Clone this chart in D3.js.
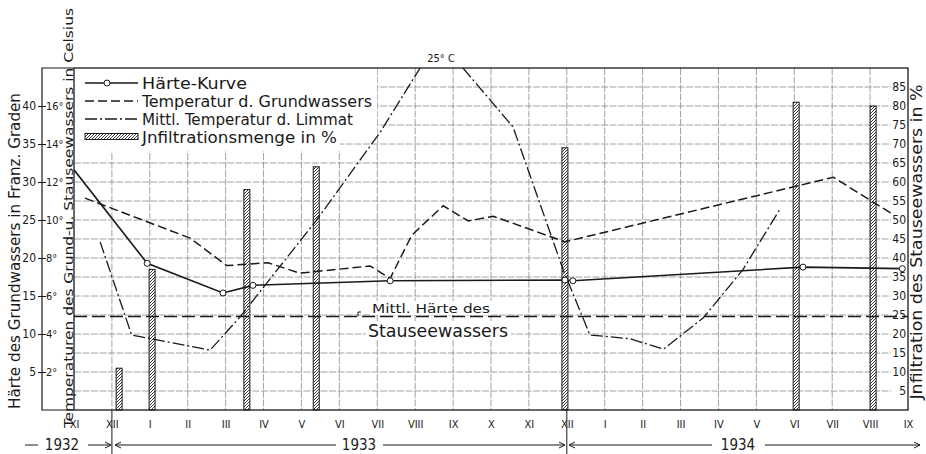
<!DOCTYPE html>
<html>
<head>
<meta charset="utf-8">
<script src="https://cdnjs.cloudflare.com/ajax/libs/d3/7.8.5/d3.min.js"></script>
<style>
  body { margin: 0; background: #fff; }
  svg { display: block; }
  text { font-family: "DejaVu Sans Condensed", "Liberation Sans Narrow", "DejaVu Sans", sans-serif; fill: #1a1a1a; }
</style>
</head>
<body>
<svg id="chart" width="926" height="454"></svg>
<script>
// month labels, Nov 1932 .. Sep 1934 (index 0..22)
const months = ["XI", "XII", "I", "II", "III", "IV", "V", "VI", "VII", "VIII", "IX", "X", "XI",
                "XII", "I", "II", "III", "IV", "V", "VI", "VII", "VIII", "IX"];
const years = ["1932", "1933", "1934"];

// [month index, value]
const haerte = [[0, 31.6], [1.93, 19.3], [3.93, 15.4], [4.72, 16.4], [8.34, 17.0],
                [12.95, 17.1], [13.16, 17.0], [19.23, 18.8], [21.85, 18.6]];   // franz. Grade
const tempGrund = [[0.29, 11.15], [3.06, 9.05], [4.03, 7.6], [5.12, 7.75], [5.96, 7.2],
                   [7.81, 7.58], [8.34, 6.93], [8.91, 9.2], [9.74, 10.75], [10.4, 9.95],
                   [11.06, 10.2], [12.95, 8.85], [20.03, 12.25], [21.6, 10.3]];  // °C
const tempLimmat = [[0.69, 8.85], [1.52, 3.95], [3.59, 3.15], [4.38, 4.9], [6.4, 10.0],
                    [8.07, 14.6], [9.13, 18.0], [9.7, 25.0], [10.26, 18.0], [11.58, 14.9],
                    [12.9, 7.4], [13.61, 3.95], [14.67, 3.75], [15.55, 3.2], [16.6, 4.85],
                    [17.65, 7.4], [18.63, 10.6]];                                   // °C
const infiltration = [[1.19, 11], [2.06, 37], [4.56, 58], [6.39, 64], [12.95, 69],
                      [19.05, 81], [21.08, 80]];                                    // %
const mittlHaerte = 12.3;

const haerteTicks = [5, 10, 15, 20, 25, 30, 35, 40];
const tempTicks = [2, 4, 6, 8, 10, 12, 14, 16];
const pctTicks = [5, 10, 15, 20, 25, 30, 35, 40, 45, 50, 55, 60, 65, 70, 75, 80, 85];

const INK = "#1a1a1a";
const L = 74, R = 908, T = 68, B = 410;

const svg = d3.select("#chart");
const x = d3.scaleLinear().domain([0, 22]).range([L, R]);
const yH = d3.scaleLinear().domain([0, 45]).range([B, T]);
const yT = d3.scaleLinear().domain([0, 18]).range([B, T]);
const yP = d3.scaleLinear().domain([0, 90]).range([B, T]);

const defs = svg.append("defs");
defs.append("clipPath").attr("id", "plot")
  .append("rect").attr("x", L).attr("y", T).attr("width", R - L).attr("height", B - T);
const hatch = defs.append("pattern").attr("id", "hatch")
  .attr("patternUnits", "userSpaceOnUse").attr("width", 3).attr("height", 3);
hatch.append("rect").attr("width", 3).attr("height", 3).attr("fill", "#fff");
hatch.append("path").attr("d", "M-1,1 L1,-1 M0,3 L3,0 M2,4 L4,2")
  .attr("stroke", "#222").attr("stroke-width", 0.9);

// grid
const grid = svg.append("g").attr("stroke", "#8a8a8a").attr("stroke-width", 0.8)
  .attr("stroke-dasharray", "7,1.5");
grid.selectAll(".v").data(d3.range(1, 22)).join("line")
  .attr("x1", d => x(d)).attr("x2", d => x(d)).attr("y1", T).attr("y2", B);
grid.selectAll(".h").data(pctTicks).join("line")
  .attr("x1", L).attr("x2", 891).attr("y1", d => yP(d)).attr("y2", d => yP(d));

// year separators at XII
svg.selectAll(".sep").data([1, 13]).join("line")
  .attr("x1", d => x(d)).attr("x2", d => x(d)).attr("y1", B).attr("y2", 454)
  .attr("stroke", INK).attr("stroke-width", 1);

// legend background
svg.append("path").attr("d", `M${L},${T} H377 V143 H340 V151 H${L} Z`).attr("fill", "#fff");

// infiltration bars
svg.append("g").selectAll("rect").data(infiltration).join("rect")
  .attr("x", d => x(d[0]) - 3).attr("width", 6)
  .attr("y", d => yP(d[1])).attr("height", d => B - yP(d[1]))
  .attr("fill", "url(#hatch)").attr("stroke", INK).attr("stroke-width", 1);

// mittlere Härte des Stauseewassers
svg.append("line").attr("x1", L).attr("x2", R)
  .attr("y1", yH(mittlHaerte)).attr("y2", yH(mittlHaerte))
  .attr("stroke", INK).attr("stroke-width", 1.3).attr("stroke-dasharray", "13,5");
svg.append("rect").attr("x", 370).attr("y", 301).attr("width", 122).attr("height", 14).attr("fill", "#fff");
svg.append("rect").attr("x", 366).attr("y", 321).attr("width", 145).attr("height", 19).attr("fill", "#fff");
svg.append("text").attr("x", 431).attr("y", 313).attr("text-anchor", "middle")
  .attr("font-size", 13).attr("textLength", 118).attr("lengthAdjust", "spacingAndGlyphs")
  .text("Mittl. Härte des");
svg.append("text").attr("x", 438).attr("y", 337).attr("text-anchor", "middle")
  .attr("font-size", 17).attr("textLength", 140).attr("lengthAdjust", "spacingAndGlyphs")
  .text("Stauseewassers");
svg.append("path").attr("d", `M358,${yH(mittlHaerte)} V312 H361`)
  .attr("fill", "none").attr("stroke", INK).attr("stroke-width", 1);

// curves
const plot = svg.append("g").attr("clip-path", "url(#plot)");
const line = sc => d3.line().x(d => x(d[0])).y(d => sc(d[1]));

plot.append("path").datum(tempGrund).attr("d", line(yT))
  .attr("fill", "none").attr("stroke", INK).attr("stroke-width", 1.5).attr("stroke-dasharray", "9,4");
plot.append("path").datum(tempLimmat).attr("d", line(yT))
  .attr("fill", "none").attr("stroke", INK).attr("stroke-width", 1.3).attr("stroke-dasharray", "12,3,2,3");
plot.append("path").datum(haerte).attr("d", line(yH))
  .attr("fill", "none").attr("stroke", INK).attr("stroke-width", 1.6);
plot.selectAll("circle").data(haerte.slice(1)).join("circle")
  .attr("cx", d => x(d[0])).attr("cy", d => yH(d[1])).attr("r", 3)
  .attr("fill", "#fff").attr("stroke", INK).attr("stroke-width", 1);

svg.append("text").attr("x", 441).attr("y", 62).attr("text-anchor", "middle")
  .attr("font-size", 11).text("25° C");

// legend
const legend = [
  { label: "Härte-Kurve", len: 105 },
  { label: "Temperatur d. Grundwassers", len: 230 },
  { label: "Mittl. Temperatur d. Limmat", len: 211 },
  { label: "Jnfiltrationsmenge in %", len: 195 }
];
const ly = i => 83 + i * 18;
const lg = svg.append("g");
lg.append("line").attr("x1", 85).attr("x2", 138).attr("y1", ly(0)).attr("y2", ly(0))
  .attr("stroke", INK).attr("stroke-width", 1.6);
lg.append("circle").attr("cx", 107).attr("cy", ly(0)).attr("r", 3)
  .attr("fill", "#fff").attr("stroke", INK);
lg.append("line").attr("x1", 85).attr("x2", 138).attr("y1", ly(1)).attr("y2", ly(1))
  .attr("stroke", INK).attr("stroke-width", 1.5).attr("stroke-dasharray", "9,4");
lg.append("line").attr("x1", 85).attr("x2", 138).attr("y1", ly(2)).attr("y2", ly(2))
  .attr("stroke", INK).attr("stroke-width", 1.3).attr("stroke-dasharray", "12,3,2,3");
lg.append("rect").attr("x", 85).attr("y", ly(3) - 3.5).attr("width", 53).attr("height", 6)
  .attr("fill", "url(#hatch)").attr("stroke", INK);
lg.selectAll("text").data(legend).join("text")
  .attr("x", 142).attr("y", (d, i) => ly(i) + 5.5).attr("font-size", 15)
  .attr("textLength", d => d.len).attr("lengthAdjust", "spacingAndGlyphs")
  .text(d => d.label);

// frame
svg.append("rect").attr("x", L).attr("y", T).attr("width", R - L).attr("height", B - T)
  .attr("fill", "none").attr("stroke", INK).attr("stroke-width", 1.3);
svg.append("path").attr("d", `M${L},${T} H42 V${B} H${L}`)
  .attr("fill", "none").attr("stroke", INK).attr("stroke-width", 1.2);

// left axes
const axH = svg.append("g").attr("transform", "translate(42,0)")
  .call(d3.axisLeft(yH).tickValues(haerteTicks).tickSize(4).tickPadding(2).tickFormat(d3.format("d")));
const axT = svg.append("g").attr("transform", "translate(42,0)")
  .call(d3.axisRight(yT).tickValues(tempTicks).tickSize(4).tickPadding(0).tickFormat(d => d + "°"));
// right axis (percent)
const axP = svg.append("g").attr("transform", "translate(907,0)")
  .call(d3.axisLeft(yP).tickValues(pctTicks).tickSize(0).tickPadding(1));
// months
const axM = svg.append("g").attr("transform", `translate(0,${B})`)
  .call(d3.axisBottom(x).tickValues(d3.range(months.length)).tickSize(0).tickPadding(10)
    .tickFormat(i => months[i]));
[axH, axT, axP, axM].forEach(a => {
  a.select(".domain").remove();
  a.selectAll("line").attr("stroke", INK);
  a.selectAll("text").attr("font-family", null).attr("fill", INK);
});
axH.selectAll("text").attr("font-size", 12);
axT.selectAll("text").attr("font-size", 11);
axP.selectAll("text").attr("font-size", 12);
axM.selectAll("text").attr("font-size", 11);

// axis titles
const rot = (cx, cy, size, len, s) => svg.append("text")
  .attr("transform", `translate(${cx},${cy}) rotate(-90)`).attr("text-anchor", "middle")
  .attr("dy", "0.35em").attr("font-size", size)
  .attr("textLength", len).attr("lengthAdjust", "spacingAndGlyphs").text(s);
rot(15, 251, 15, 316, "Härte des Grundwassers in Franz. Graden");
rot(68, 218, 13, 420, "Temperaturen des Grund-u. Stauseewassers in Celsius");
rot(917, 242, 15, 315, "Jnfiltration des Stauseewassers in %");

// year row
const yy = 445;
const yr = svg.append("g").attr("stroke", INK).attr("stroke-width", 1).attr("fill", "none");
[[25, 38], [88, 111], [115, 336], [383, 565], [569, 712], [765, 920]].forEach(s =>
  yr.append("line").attr("x1", s[0]).attr("x2", s[1]).attr("y1", yy).attr("y2", yy));
[[111, 1], [565, 1], [920, 1], [115, -1], [569, -1]].forEach(a =>
  yr.append("path").attr("d", `M${a[0] - 6 * a[1]},${yy - 3} L${a[0]},${yy} L${a[0] - 6 * a[1]},${yy + 3}`));
svg.selectAll(".yr").data(years).join("text")
  .attr("x", (d, i) => [62, 359, 738][i]).attr("y", yy).attr("dy", "0.36em")
  .attr("text-anchor", "middle").attr("font-size", 15).text(d => d);
</script>
</body>
</html>
